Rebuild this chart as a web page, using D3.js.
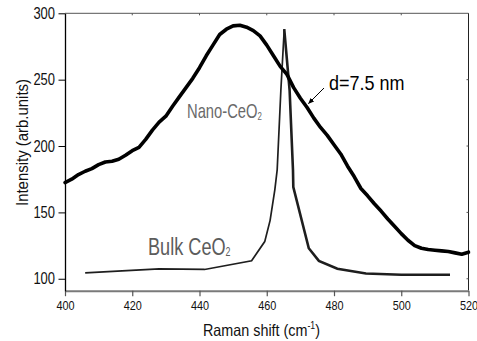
<!DOCTYPE html>
<html>
<head>
<meta charset="utf-8">
<script src="https://cdn.jsdelivr.net/npm/d3@7/dist/d3.min.js"></script>
<style>
  html, body { margin: 0; padding: 0; background: #fff; }
  svg { display: block; }
</style>
</head>
<body>
<svg id="chart" width="477" height="341"></svg>
<script>
// Raman spectra of CeO2: nanocrystalline (d = 7.5 nm) vs bulk
const nanoShift = [400,402,404,406,408,410,412,414,416,418,420,422,424,426,428,430,432,434,436,438,440,442,444,446,448,450,452,454,456,458,460,462,464,466,468,470,472,474,476,478,480,482,484,486,488,490,492,494,496,498,500,502,504,506,508,510,512,514,516,518,520];
const nanoIntensity = [172.5,175,178.5,181,183,186,188,188.5,190,193,196.5,199,205,212,218,222.5,230,237,244,251,259,268,276,284,288,290.5,291,289.5,287,283,276,268,260,254,244,236,229,221,214,208,201,194,185,177,168,162.5,156.5,151,145,139.5,134,129,125,123,122,121.5,121,120.5,119.5,118.5,120];

const bulkShift = [406,428,441.5,455.5,459.4,461,462.4,463.1,464.2,465.2,466.8,467.8,467.9,472.5,475.5,481,489.5,500,514.5];
const bulkIntensity = [104.5,107.5,107,113.5,128,144,167,182,242,288,242,182,169,123,113.5,107.5,104,103,103];

const xTicks = [400,420,440,460,480,500,520];
const yTicks = [100,150,200,250,300];

const font = "'Liberation Sans',Arial,Helvetica,sans-serif";

const svg = d3.select("#chart");
const plotL = 65, plotR = 468.5, plotT = 13.3, plotB = 290.7;

const x = d3.scaleLinear().domain([400, 520]).range([plotL, plotR]);
const y = d3.scaleLinear().domain([91, 300]).range([plotB, plotT]);

// frame: top and right edges
svg.append("line").attr("x1", plotL).attr("x2", plotR).attr("y1", plotT).attr("y2", plotT)
  .attr("stroke", "#555").attr("stroke-width", 1);
svg.append("line").attr("x1", plotR).attr("x2", plotR).attr("y1", plotT).attr("y2", plotB)
  .attr("stroke", "#222").attr("stroke-width", 1);

// small inner ticks on top and right edges
svg.append("g").selectAll("line").data(xTicks.slice(1, -1)).join("line")
  .attr("x1", d => x(d)).attr("x2", d => x(d)).attr("y1", plotT).attr("y2", plotT + 2)
  .attr("stroke", "#555").attr("stroke-width", 1);
svg.append("g").selectAll("line").data(yTicks.slice(0, -1)).join("line")
  .attr("x1", plotR).attr("x2", plotR - 2).attr("y1", d => y(d)).attr("y2", d => y(d))
  .attr("stroke", "#555").attr("stroke-width", 1);

// bottom axis (condensed labels)
const sxX = 0.87;
const xAxis = svg.append("g").attr("transform", `translate(0,${plotB})`)
  .call(d3.axisBottom(x).tickValues(xTicks).tickSize(5.5).tickPadding(5).tickSizeOuter(0));
xAxis.select(".domain").attr("stroke", "#7a7a7a").attr("stroke-width", 2);
xAxis.selectAll(".tick line").attr("stroke", "#555").attr("stroke-width", 1.2);
xAxis.selectAll(".tick text").attr("font-family", font).attr("font-size", 12.5)
  .attr("fill", "#111").attr("transform", `scale(${sxX},1)`);

// left axis (condensed labels)
const sxY = 0.81;
const yAxis = svg.append("g").attr("transform", `translate(${plotL},0)`)
  .call(d3.axisLeft(y).tickValues(yTicks).tickSize(6.5).tickPadding(3.5).tickSizeOuter(0));
yAxis.select(".domain").attr("stroke", "#000").attr("stroke-width", 1.3);
yAxis.selectAll(".tick line").attr("stroke", "#000").attr("stroke-width", 1);
yAxis.selectAll(".tick text").attr("font-family", font).attr("font-size", 16)
  .attr("fill", "#111").attr("x", -10 / sxY).attr("transform", `scale(${sxY},1)`);

// spectra
const line = d3.line().x(d => x(d[0])).y(d => y(d[1]));
const nano = nanoShift.map((s, i) => [s, nanoIntensity[i]]);
const bulk = bulkShift.map((s, i) => [s, bulkIntensity[i]]);
const peakIdx = d3.maxIndex(bulkIntensity);

// bulk trace: thinner rising side, heavier falling side
svg.append("path").datum(bulk.slice(0, peakIdx + 1)).attr("d", line)
  .attr("fill", "none").attr("stroke", "#1e1e1e").attr("stroke-width", 1.7)
  .attr("stroke-linejoin", "miter").attr("stroke-miterlimit", 6);
svg.append("path").datum(bulk.slice(peakIdx)).attr("d", line)
  .attr("fill", "none").attr("stroke", "#1e1e1e").attr("stroke-width", 2.6)
  .attr("stroke-linejoin", "miter").attr("stroke-miterlimit", 6);

svg.append("path").datum(nano).attr("d", line)
  .attr("fill", "none").attr("stroke", "#000").attr("stroke-width", 3.6)
  .attr("stroke-linejoin", "round").attr("stroke-linecap", "round");

// condensed text helper: a group placed at (tx, ty), squeezed horizontally
function condensed(tx, ty, sx) {
  return svg.append("g").attr("transform", `translate(${tx},${ty}) scale(${sx},1)`)
    .append("text").attr("font-family", font);
}

const nanoLbl = condensed(187, 118, 0.72).attr("font-size", 20.5).attr("fill", "#6a6a6a");
nanoLbl.append("tspan").text("Nano-CeO");
nanoLbl.append("tspan").attr("font-size", 11).attr("dy", 2).text("2");

const bulkLbl = condensed(148, 255, 0.74).attr("font-size", 24.5).attr("fill", "#5c5c5c");
bulkLbl.append("tspan").text("Bulk CeO");
bulkLbl.append("tspan").attr("font-size", 12).attr("dy", 1).text("2");

condensed(329, 90, 0.9).attr("font-size", 20).attr("fill", "#000").text("d=7.5 nm");

// arrow pointing at the nano curve
svg.append("defs").append("marker").attr("id", "ah")
  .attr("viewBox", "0 0 10 10").attr("refX", 9).attr("refY", 5)
  .attr("markerWidth", 6).attr("markerHeight", 6).attr("orient", "auto")
  .append("path").attr("d", "M0,1 L10,5 L0,9 Z").attr("fill", "#000");
svg.append("line").attr("x1", 324).attr("y1", 88).attr("x2", 308.5).attr("y2", 103.5)
  .attr("stroke", "#000").attr("stroke-width", 1).attr("marker-end", "url(#ah)");

// axis titles
svg.append("text").attr("transform", `translate(27.5,142.5) rotate(-90)`)
  .attr("text-anchor", "middle").attr("font-family", font).attr("font-size", 16)
  .attr("textLength", 127).attr("lengthAdjust", "spacingAndGlyphs")
  .attr("fill", "#111").text("Intensity (arb.units)");

const xt = condensed(203, 336, 0.87).attr("font-size", 16.5).attr("fill", "#111");
xt.append("tspan").text("Raman shift (cm");
xt.append("tspan").attr("font-size", 10).attr("dy", -7).text("-1");
xt.append("tspan").attr("dy", 7).text(")");
</script>
</body>
</html>
